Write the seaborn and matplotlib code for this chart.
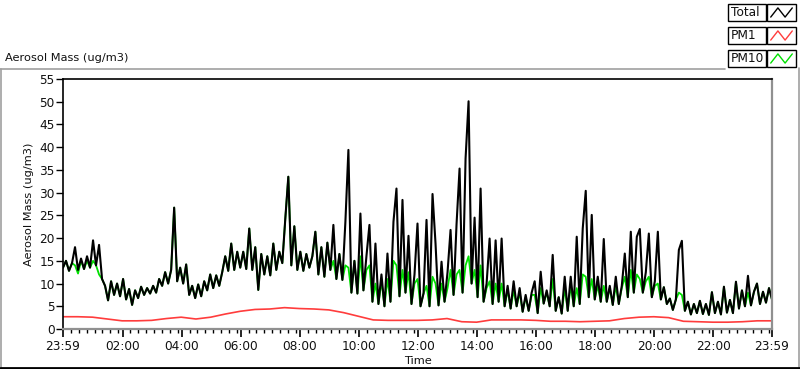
import numpy as np
import matplotlib
matplotlib.use("Agg")
import matplotlib.pyplot as plt
import seaborn as sns
from matplotlib.lines import Line2D
from matplotlib.patches import Rectangle

# Aerosol mass (ug/m3), one reading every ~6 minutes from 23:59 to 23:59
total = [
    13.5, 15.0, 12.8, 14.5, 18.0, 13.0, 15.5, 13.2, 16.0, 13.5,
    19.5, 14.0, 18.5, 11.0, 9.5, 6.3, 10.5, 7.5, 10.0, 7.2,
    11.0, 6.5, 8.8, 5.3, 8.5, 6.8, 9.3, 7.5, 9.0, 7.8,
    9.5, 8.0, 11.0, 9.5, 12.5, 10.0, 13.0, 26.7, 10.5, 13.5,
    10.0, 14.2, 7.5, 9.5, 6.8, 9.8, 7.2, 10.5, 8.5, 12.0,
    9.0, 11.8, 9.5, 12.5, 16.0, 12.8, 18.8, 13.0, 17.0, 13.5,
    17.0, 13.2, 22.1, 13.0, 18.0, 8.6, 16.5, 12.0, 16.0, 11.8,
    18.8, 13.0, 17.0, 14.5, 24.3, 33.5, 14.0, 22.6, 13.0, 17.0,
    12.8, 16.5, 13.5, 16.0, 21.4, 12.0, 18.0, 11.5, 19.0, 13.0,
    22.9, 11.0, 16.5, 10.8, 23.6, 39.4, 8.0, 15.0, 7.8, 25.4,
    8.5, 16.0, 22.9, 6.0, 18.8, 5.5, 12.0, 5.0, 16.6, 6.0,
    23.6, 30.9, 7.2, 28.4, 8.0, 20.5, 5.5, 12.0, 23.2, 5.0,
    7.8, 24.0, 5.0, 29.7, 18.8, 5.2, 14.8, 6.0, 12.5, 21.8,
    7.5, 23.1, 35.3, 8.0, 37.5, 50.1, 10.0, 24.5, 7.0, 30.9,
    6.0, 10.0, 19.9, 5.5, 19.5, 6.0, 19.9, 5.0, 9.5, 4.5,
    10.5, 5.0, 9.0, 3.8, 7.5, 4.0, 8.0, 10.5, 3.5, 12.6,
    5.6, 8.5, 5.0, 16.3, 4.0, 7.0, 3.4, 11.5, 4.0, 11.5,
    5.0, 20.3, 5.5, 22.1, 30.4, 7.0, 25.1, 6.5, 11.5, 6.0,
    19.8, 6.0, 9.5, 5.3, 11.5, 5.5, 9.5, 16.6, 7.0, 21.4,
    8.0, 20.3, 22.0, 8.0, 12.5, 21.0, 7.0, 10.5, 21.4, 6.5,
    9.2, 5.5, 6.7, 4.2, 6.5, 17.4, 19.4, 4.0, 6.0, 3.2,
    5.5, 3.5, 6.2, 3.3, 5.5, 3.1, 8.1, 3.5, 6.0, 3.2,
    9.3, 3.6, 6.4, 3.5, 10.4, 4.5, 8.5, 5.0, 11.7, 5.2,
    8.2, 10.0, 5.5, 8.2, 5.8, 9.0, 6.5,
]

pm10 = [
    13.5, 15.0, 12.8, 14.5, 14.0, 12.2, 15.0, 13.2, 15.0, 13.5,
    15.0, 14.0, 12.0, 11.0, 9.5, 6.3, 10.5, 7.5, 10.0, 7.2,
    11.0, 6.5, 8.8, 5.3, 8.5, 6.8, 9.3, 7.5, 9.0, 7.8,
    9.5, 8.0, 11.0, 9.5, 12.5, 10.0, 13.0, 26.7, 10.5, 13.5,
    10.0, 14.2, 7.5, 9.5, 6.8, 9.8, 7.2, 10.5, 8.5, 12.0,
    9.0, 11.8, 9.5, 12.5, 16.0, 12.8, 18.8, 13.0, 17.0, 13.5,
    17.0, 13.2, 22.1, 13.0, 18.0, 8.6, 16.5, 12.0, 16.0, 11.8,
    18.8, 13.0, 17.0, 14.5, 24.3, 33.5, 14.0, 22.6, 13.0, 17.0,
    12.8, 16.5, 13.5, 16.0, 21.4, 12.0, 18.0, 11.5, 19.0, 13.0,
    15.0, 11.0, 16.5, 10.8, 14.0, 13.5, 8.0, 15.0, 7.8, 16.0,
    8.5, 13.0, 14.0, 6.0, 10.0, 5.5, 10.5, 5.0, 11.0, 6.0,
    15.0, 14.0, 7.2, 13.0, 8.0, 12.5, 5.5, 10.0, 11.0, 5.0,
    7.8, 9.5, 5.0, 11.5, 10.0, 5.2, 10.0, 6.0, 9.0, 13.0,
    7.5, 12.0, 13.0, 8.0, 14.0, 16.0, 10.0, 13.0, 7.0, 14.0,
    6.0, 9.0, 10.5, 5.5, 10.0, 6.0, 10.0, 5.0, 8.5, 4.5,
    8.5, 5.0, 8.0, 3.8, 7.0, 4.0, 7.5, 7.5, 3.5, 9.0,
    5.6, 8.0, 5.0, 11.0, 4.0, 7.0, 3.4, 9.0, 4.0, 9.5,
    5.0, 9.0, 5.5, 12.0, 11.5, 7.0, 11.0, 6.5, 9.5, 6.0,
    9.5, 6.0, 9.0, 5.3, 9.5, 5.5, 9.0, 11.5, 7.0, 13.0,
    8.0, 12.0, 11.0, 8.0, 10.5, 11.5, 7.0, 9.5, 10.0, 6.5,
    9.2, 5.5, 6.7, 4.2, 6.5, 8.0, 7.5, 4.0, 6.0, 3.2,
    5.5, 3.5, 6.2, 3.3, 5.5, 3.1, 8.1, 3.5, 6.0, 3.2,
    9.3, 3.6, 6.4, 3.5, 10.4, 4.5, 8.5, 5.0, 8.0, 5.2,
    8.2, 10.0, 5.5, 8.2, 5.8, 9.0, 6.5,
]

# PM1, one reading every 30 minutes
pm1 = [
    2.7, 2.7, 2.6, 2.2, 1.8, 1.8, 1.9, 2.3, 2.6, 2.2,
    2.6, 3.3, 3.9, 4.3, 4.4, 4.7, 4.5, 4.4, 4.2, 3.6,
    2.8, 2.0, 1.9, 1.9, 1.9, 2.0, 2.3, 1.6, 1.5, 2.0,
    2.0, 2.0, 1.9, 1.7, 1.7, 1.6, 1.7, 1.8, 2.3, 2.6,
    2.7, 2.5, 1.7, 1.6, 1.5, 1.5, 1.6, 1.8, 1.8,
]

tick_labels = ["23:59", "02:00", "04:00", "06:00", "08:00", "10:00", "12:00",
               "14:00", "16:00", "18:00", "20:00", "22:00", "23:59"]
y_ticks = list(range(0, 60, 5))

hours = np.linspace(0, 24, len(total))
pm1_hours = np.linspace(0, 24, len(pm1))
tick_hours = [0] + [h + 1 / 60 for h in range(2, 24, 2)] + [24]
minor_hours = []
for a, b in zip(tick_hours[:-1], tick_hours[1:]):
    minor_hours += [a + k * 16 / 60 for k in range(1, 8) if a + k * 16 / 60 < b - 0.1]

sns.set_theme(style="white")
plt.rcParams['font.family'] = ['DejaVu Sans']
txt = '#111111'
fs = 8.2

W, H = 800, 369
fig = plt.figure(figsize=(W / 100, H / 100), dpi=100)
fig.patch.set_facecolor('white')


def fx(x):
    return x / W


def fy(y):
    return 1 - y / H


ax = fig.add_axes([fx(63), fy(329), fx(772) - fx(63), fy(79) - fy(329)])
sns.lineplot(x=hours, y=pm10, ax=ax, color='#00e000', linewidth=1.3, estimator=None)
sns.lineplot(x=pm1_hours, y=pm1, ax=ax, color='#ff3c3c', linewidth=1.2, estimator=None)
sns.lineplot(x=hours, y=total, ax=ax, color='black', linewidth=1.5, estimator=None)

ax.set_xlim(0, 24)
ax.set_ylim(0, 55)
ax.set_yticks(y_ticks)
ax.set_xticks(tick_hours)
ax.set_xticklabels(tick_labels)
ax.set_xticks(minor_hours, minor=True)

for s in ['top', 'left']:
    ax.spines[s].set_color('black')
    ax.spines[s].set_linewidth(1.2)
for s in ['right', 'bottom']:
    ax.spines[s].set_color('#909090')
    ax.spines[s].set_linewidth(1.6)

ax.tick_params(axis='y', direction='out', length=5, width=1, color='black',
               labelsize=fs + 0.5, labelcolor=txt, pad=1, left=True)
ax.tick_params(axis='x', which='major', direction='out', length=6, width=1.2,
               color='black', labelsize=fs + 0.5, labelcolor=txt, pad=2, bottom=True)
ax.tick_params(axis='x', which='minor', direction='out', length=3, width=1,
               color='black', bottom=True)

ax.set_xlabel("Time", fontsize=fs, color=txt, labelpad=2)
ax.set_ylabel("Aerosol Mass (ug/m3)", fontsize=fs, color=txt, labelpad=4)

fig.text(fx(5), fy(58), "Aerosol Mass (ug/m3)", fontsize=fs, color=txt,
         ha='left', va='center')

# panel frame
frame = '#a0a0a0'
fig.add_artist(Line2D([fx(0), fx(725)], [fy(69), fy(69)], color=frame, lw=1.2,
                      transform=fig.transFigure))
fig.add_artist(Line2D([fx(0.5), fx(0.5)], [fy(69), fy(367)], color=frame, lw=1.2,
                      transform=fig.transFigure))
fig.add_artist(Line2D([fx(799), fx(799)], [fy(68), fy(367)], color=frame, lw=1.2,
                      transform=fig.transFigure))
fig.add_artist(Line2D([fx(0), fx(800)], [fy(367.5), fy(367.5)], color='black', lw=2,
                      transform=fig.transFigure))

# legend
legend_rows = [("Total", 'black', 4), ("PM1", '#ff3c3c', 27), ("PM10", '#00e000', 50)]
for name, col, top in legend_rows:
    fig.add_artist(Rectangle((fx(728), fy(top + 17)), fx(766) - fx(728), fy(top) - fy(top + 17),
                             transform=fig.transFigure, fc='white', ec='black', lw=1, zorder=1))
    fig.add_artist(Rectangle((fx(767), fy(top + 17)), fx(796) - fx(767), fy(top) - fy(top + 17),
                             transform=fig.transFigure, fc='white', ec='black', lw=1, zorder=1))
    fig.text(fx(731), fy(top + 8.5), name, fontsize=fs + 0.5, color=txt, ha='left', va='center')
    sw = fig.add_axes([fx(770), fy(top + 14), fx(793) - fx(770), fy(top + 3) - fy(top + 14)])
    sw.set_zorder(5)
    sw.patch.set_alpha(0)
    sw.plot([0, 1, 2, 3], [0, 1, 0, 1], color=col, lw=1)
    sw.set_xlim(-0.1, 3.1)
    sw.set_ylim(-0.1, 1.1)
    sw.axis('off')

fig.savefig("out.png", dpi=100)
